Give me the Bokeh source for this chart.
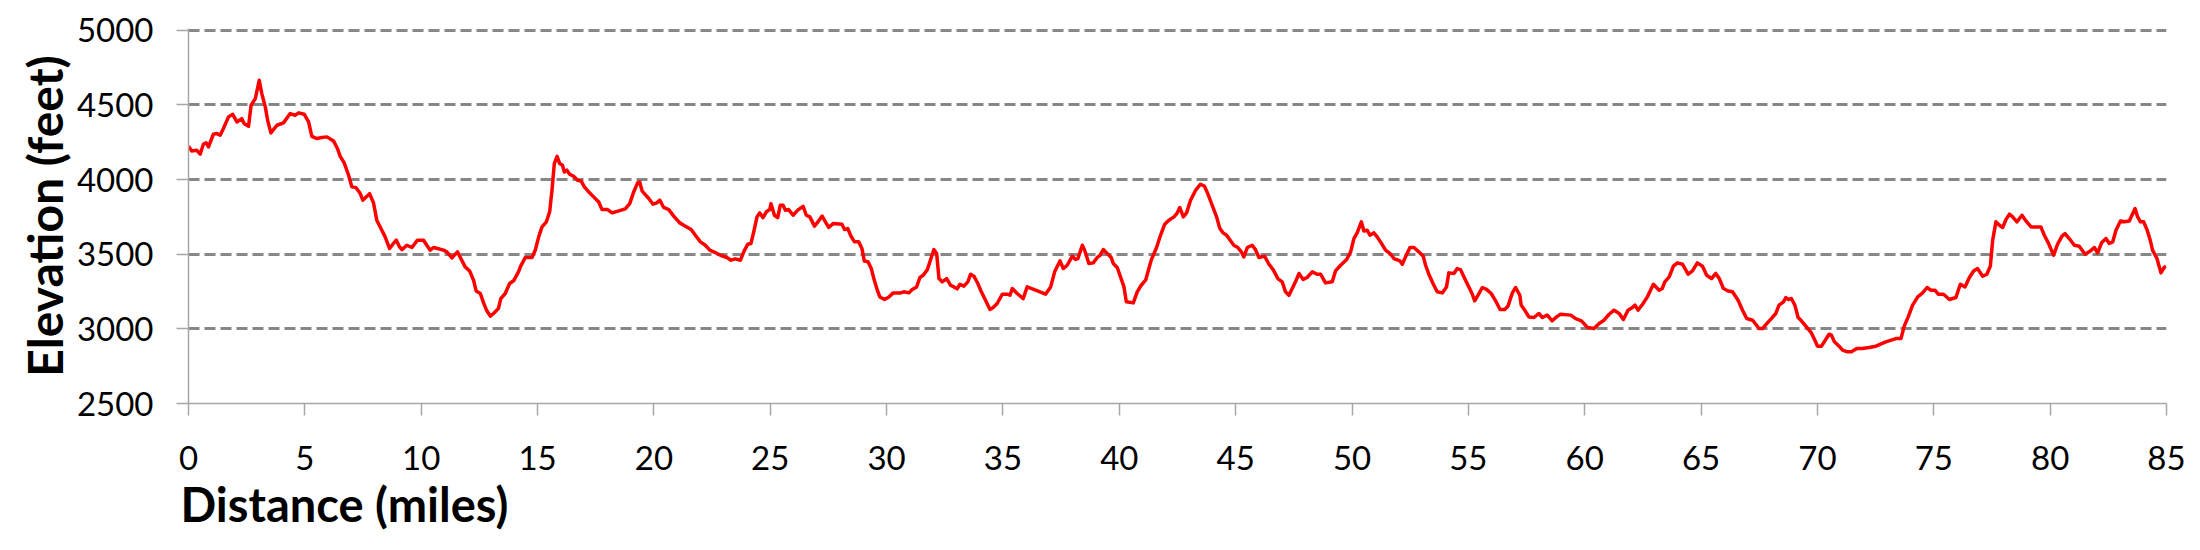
from bokeh.plotting import figure
from bokeh.models import Range1d, FixedTicker, Title
from bokeh.embed import file_html
from bokeh.resources import INLINE

miles = [0, 0.14, 0.36, 0.5, 0.64, 0.76, 0.86, 1.07, 1.22, 1.36, 1.5, 1.72, 1.9, 2.08, 2.29, 2.39, 2.58, 2.69,
         2.87, 3.04, 3.15, 3.3, 3.4, 3.54, 3.8, 4.08, 4.37, 4.58, 4.73, 4.97, 5.16, 5.3, 5.52, 5.73, 5.95, 6.23,
         6.4, 6.52, 6.69, 6.88, 7.02, 7.2, 7.38, 7.49, 7.64, 7.78, 7.95, 8.09, 8.27, 8.45, 8.64, 8.78, 8.93, 9.07,
         9.17, 9.38, 9.6, 9.84, 10.1, 10.24, 10.39, 10.53, 10.7, 10.96, 11.1, 11.32, 11.56, 11.68, 11.89, 12.08,
         12.25, 12.36, 12.54, 12.68, 12.82, 12.97, 13.11, 13.32, 13.42, 13.61, 13.8, 13.97, 14.18, 14.26, 14.47,
         14.76, 14.9, 15.05, 15.19, 15.38, 15.52, 15.62, 15.72, 15.84, 15.95, 16.07, 16.15, 16.26, 16.38, 16.55,
         16.72, 16.87, 17.01, 17.2, 17.41, 17.63, 17.77, 18.01, 18.2, 18.49, 18.77, 18.96, 19.13, 19.3, 19.39,
         19.49, 19.59, 19.78, 19.96, 20.13, 20.25, 20.42, 20.64, 20.85, 21.11, 21.35, 21.6, 21.78, 22.0, 22.21,
         22.4, 22.64, 22.86, 23.14, 23.31, 23.5, 23.72, 23.86, 24.03, 24.17, 24.29, 24.43, 24.55, 24.69, 24.83,
         24.98, 25.03, 25.18, 25.32, 25.43, 25.55, 25.65, 25.79, 25.98, 26.18, 26.41, 26.55, 26.7, 26.9, 27.05,
         27.23, 27.37, 27.51, 27.7, 28.08, 28.19, 28.33, 28.47, 28.62, 28.8, 28.94, 29.04, 29.2, 29.34, 29.45,
         29.6, 29.71, 29.91, 30.1, 30.28, 30.6, 30.74, 30.96, 31.1, 31.29, 31.43, 31.57, 31.75, 31.92, 32.03,
         32.15, 32.25, 32.39, 32.58, 32.75, 32.89, 33.03, 33.15, 33.32, 33.49, 33.61, 33.75, 33.92, 34.07, 34.25,
         34.44, 34.58, 34.75, 34.97, 35.21, 35.3, 35.4, 35.61, 35.87, 36.04, 36.4, 36.83, 37.05, 37.22, 37.45,
         37.59, 37.76, 37.98, 38.12, 38.22, 38.41, 38.51, 38.69, 38.88, 39.05, 39.17, 39.31, 39.48, 39.65, 39.74,
         39.91, 40.05, 40.2, 40.3, 40.6, 40.77, 40.94, 41.13, 41.37, 41.6, 41.77, 41.95, 42.13, 42.35, 42.49,
         42.6, 42.75, 42.89, 43.06, 43.28, 43.49, 43.66, 43.8, 43.99, 44.18, 44.32, 44.46, 44.61, 44.78, 44.92,
         45.09, 45.24, 45.35, 45.5, 45.71, 45.85, 46.0, 46.24, 46.43, 46.61, 46.81, 47.0, 47.14, 47.29, 47.43,
         47.57, 47.72, 47.9, 48.07, 48.29, 48.5, 48.65, 48.86, 49.15, 49.29, 49.51, 49.77, 49.94, 50.08, 50.22,
         50.4, 50.51, 50.65, 50.77, 50.94, 51.08, 51.25, 51.44, 51.66, 51.8, 52.06, 52.16, 52.3, 52.49, 52.66,
         52.87, 53.06, 53.16, 53.3, 53.48, 53.66, 53.88, 54.06, 54.16, 54.38, 54.52, 54.66, 54.81, 55.02, 55.17,
         55.27, 55.41, 55.6, 55.78, 55.98, 56.17, 56.36, 56.56, 56.7, 56.89, 57.03, 57.21, 57.27, 57.42, 57.6,
         57.82, 58.03, 58.18, 58.39, 58.6, 58.79, 58.96, 59.4, 59.61, 59.86, 60.12, 60.4, 60.62, 60.8, 61.05,
         61.26, 61.48, 61.66, 61.86, 62.05, 62.16, 62.29, 62.48, 62.69, 62.95, 63.2, 63.33, 63.44, 63.63, 63.81,
         63.98, 64.2, 64.44, 64.63, 64.84, 65.06, 65.24, 65.45, 65.63, 65.78, 65.96, 66.16, 66.35, 66.59, 66.78,
         66.96, 67.21, 67.35, 67.49, 67.64, 67.85, 68.02, 68.21, 68.35, 68.54, 68.64, 68.74, 68.88, 69.03, 69.17,
         69.31, 69.5, 69.74, 69.89, 70.0, 70.17, 70.32, 70.5, 70.6, 70.72, 70.93, 71.08, 71.29, 71.46, 71.69,
         71.93, 72.22, 72.51, 72.94, 73.37, 73.59, 73.73, 73.9, 74.09, 74.31, 74.52, 74.71, 74.88, 75.05, 75.19,
         75.42, 75.67, 75.95, 76.14, 76.34, 76.53, 76.71, 76.88, 77.1, 77.28, 77.43, 77.53, 77.67, 77.82, 77.96,
         78.1, 78.25, 78.39, 78.57, 78.79, 78.96, 79.18, 79.6, 79.75, 79.92, 80.15, 80.32, 80.51, 80.64, 80.82,
         81.04, 81.25, 81.5, 81.73, 81.9, 82.04, 82.21, 82.4, 82.54, 82.69, 82.83, 83.02, 83.19, 83.4, 83.55,
         83.65, 83.76, 83.88, 84.02, 84.16, 84.3, 84.4, 84.59, 84.76, 84.9, 84.98]

elevation = [4223, 4192, 4196, 4170, 4237, 4246, 4219, 4304, 4308, 4297, 4342, 4420, 4437, 4386, 4408, 4375, 4357,
             4498, 4542, 4665, 4576, 4487, 4397, 4313, 4364, 4380, 4442, 4431, 4447, 4438, 4386, 4290, 4275, 4282,
             4286, 4259, 4208, 4156, 4112, 4029, 3951, 3946, 3906, 3862, 3884, 3906, 3844, 3728, 3672, 3616, 3538,
             3567, 3594, 3549, 3531, 3560, 3545, 3594, 3594, 3560, 3527, 3545, 3538, 3527, 3516, 3476, 3516, 3478,
             3415, 3388, 3326, 3254, 3237, 3174, 3121, 3085, 3103, 3137, 3203, 3237, 3304, 3322, 3382, 3415, 3478,
             3478, 3527, 3616, 3683, 3717, 3784, 3929, 4107, 4156, 4107, 4096, 4051, 4063, 4036, 4022, 3996, 3991,
             3951, 3917, 3884, 3850, 3799, 3799, 3777, 3790, 3804, 3839, 3917, 3978, 3984, 3924, 3906, 3873, 3835,
             3844, 3862, 3813, 3799, 3755, 3710, 3688, 3665, 3627, 3583, 3560, 3527, 3511, 3493, 3478, 3460, 3469,
             3460, 3516, 3567, 3572, 3650, 3750, 3777, 3745, 3784, 3799, 3839, 3761, 3745, 3828, 3828, 3795, 3799,
             3761, 3795, 3821, 3761, 3750, 3688, 3717, 3755, 3717, 3679, 3705, 3701, 3665, 3672, 3620, 3583, 3583,
             3538, 3455, 3450, 3404, 3337, 3259, 3214, 3197, 3214, 3241, 3241, 3248, 3241, 3264, 3281, 3344, 3359,
             3397, 3478, 3531, 3505, 3337, 3315, 3337, 3292, 3281, 3268, 3299, 3286, 3315, 3366, 3353, 3304, 3248,
             3192, 3130, 3143, 3170, 3232, 3232, 3225, 3270, 3237, 3203, 3281, 3259, 3232, 3281, 3382, 3455, 3404,
             3426, 3487, 3465, 3471, 3560, 3527, 3438, 3442, 3478, 3493, 3531, 3505, 3478, 3438, 3411, 3348, 3281,
             3181, 3174, 3248, 3292, 3326, 3460, 3545, 3627, 3701, 3728, 3750, 3777, 3813, 3750, 3777, 3862, 3929,
             3969, 3955, 3906, 3828, 3750, 3672, 3643, 3627, 3590, 3560, 3545, 3516, 3482, 3545, 3560, 3531, 3478,
             3487, 3433, 3397, 3337, 3315, 3248, 3225, 3270, 3315, 3371, 3331, 3344, 3382, 3366, 3366, 3308, 3315,
             3388, 3426, 3465, 3516, 3605, 3643, 3717, 3656, 3661, 3627, 3643, 3616, 3576, 3527, 3500, 3471, 3455,
             3433, 3482, 3545, 3545, 3516, 3487, 3426, 3366, 3304, 3248, 3241, 3281, 3375, 3371, 3404, 3397, 3348,
             3281, 3232, 3188, 3225, 3277, 3264, 3237, 3188, 3130, 3130, 3152, 3241, 3277, 3225, 3159, 3125, 3080,
             3076, 3103, 3076, 3092, 3054, 3080, 3098, 3092, 3069, 3054, 3009, 3002, 3036, 3054, 3098, 3125, 3103,
             3063, 3125, 3143, 3159, 3125, 3163, 3214, 3299, 3259, 3270, 3315, 3348, 3420, 3442, 3433, 3366, 3388,
             3442, 3420, 3359, 3337, 3371, 3337, 3270, 3254, 3248, 3192, 3125, 3069, 3058, 3031, 3002, 3002, 3040,
             3069, 3103, 3159, 3181, 3210, 3197, 3203, 3159, 3076, 3054, 3018, 2973, 2924, 2884, 2884, 2920, 2964,
             2958, 2916, 2884, 2857, 2846, 2846, 2868, 2868, 2875, 2884, 2913, 2935, 2935, 3018, 3080, 3159, 3214,
             3241, 3277, 3259, 3259, 3232, 3232, 3197, 3210, 3299, 3281, 3344, 3388, 3404, 3353, 3366, 3420, 3594,
             3717, 3694, 3679, 3732, 3768, 3750, 3717, 3761, 3723, 3683, 3683, 3627, 3576, 3493, 3567, 3621, 3638,
             3605, 3560, 3554, 3500, 3522, 3545, 3509, 3576, 3605, 3572, 3583, 3661, 3723, 3717, 3723, 3772, 3806,
             3750, 3717, 3717, 3665, 3594, 3527, 3471, 3375, 3411, 3420]

x_ticks = list(range(0, 90, 5))
y_ticks = [2500, 3000, 3500, 4000, 4500, 5000]
grid_ticks = [3000, 3500, 4000, 4500, 5000]

FONT = "Lato"
AXIS_COL = "#A6A6A6"

p = figure(width=2192, height=545, output_backend="svg", toolbar_location=None,
           x_range=Range1d(0, 85), y_range=Range1d(2500, 5012),
           min_border_left=188, min_border_right=26, min_border_top=28, min_border_bottom=142)
p.outline_line_color = None
p.background_fill_color = "white"
p.border_fill_color = "white"

p.line(miles, elevation, line_color="#FF0000", line_width=3.5, line_join="round")

p.xgrid.visible = False
p.ygrid.ticker = FixedTicker(ticks=grid_ticks)
p.ygrid.grid_line_color = "#878787"
p.ygrid.grid_line_width = 3
p.ygrid.grid_line_dash = "11 5"

for ax in (p.xaxis[0], p.yaxis[0]):
    ax.axis_line_color = AXIS_COL
    ax.axis_line_width = 1.5
    ax.major_tick_line_color = AXIS_COL
    ax.major_tick_line_width = 1.5
    ax.major_tick_in = 0
    ax.major_tick_out = 12
    ax.minor_tick_line_color = None
    ax.major_label_text_font = FONT
    ax.major_label_text_font_size = "33px"
    ax.major_label_text_color = "black"

p.xaxis.ticker = FixedTicker(ticks=x_ticks)
p.yaxis.ticker = FixedTicker(ticks=y_ticks)
p.xaxis.major_label_standoff = 30
p.yaxis.major_label_standoff = 23

p.yaxis.axis_label = "Elevation (feet)"
p.yaxis.axis_label_text_font = FONT
p.yaxis.axis_label_text_font_size = "48px"
p.yaxis.axis_label_text_font_style = "bold"
p.yaxis.axis_label_text_color = "black"
p.yaxis.axis_label_standoff = 1

p.add_layout(Title(text="Distance (miles)", align="left", offset=-8, text_font=FONT,
                   text_font_size="47px", text_font_style="bold", text_color="black",
                   standoff=2), "below")

open("out.html", "w").write(file_html(p, INLINE))
